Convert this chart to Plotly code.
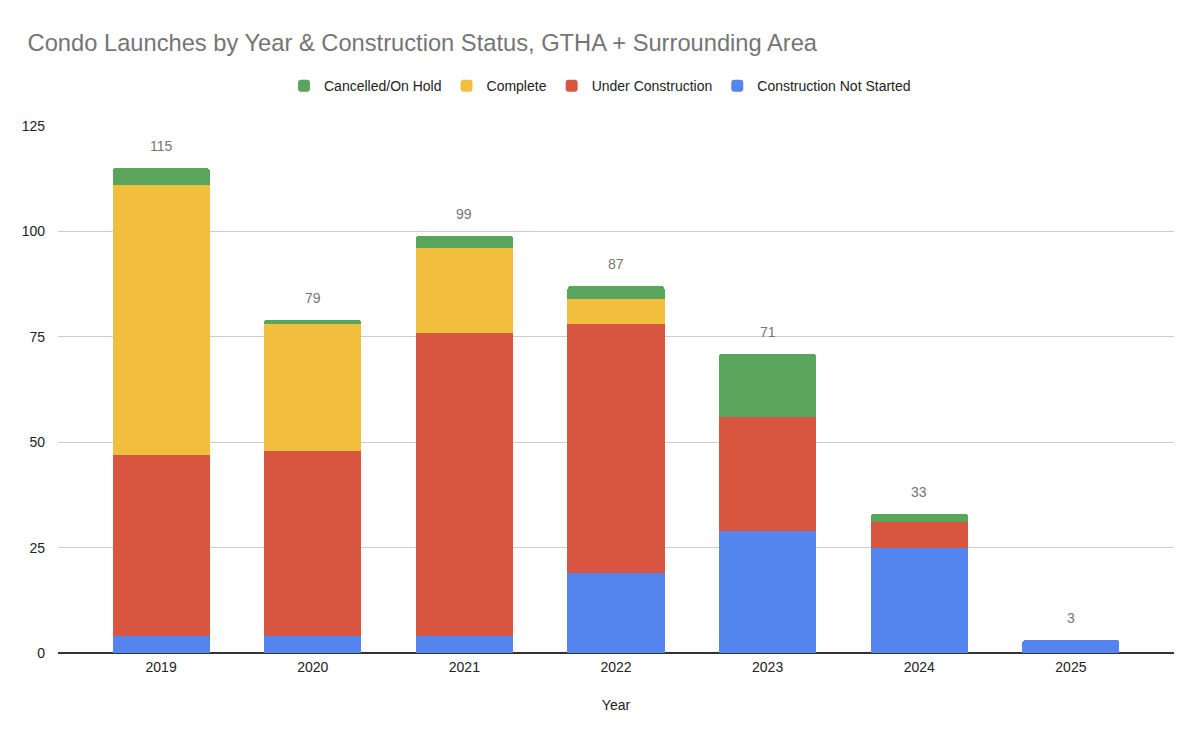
import plotly.graph_objects as go

years = ["2019", "2020", "2021", "2022", "2023", "2024", "2025"]
not_started = [4, 4, 4, 19, 29, 25, 3]
under_construction = [43, 44, 72, 59, 27, 6, 0]
complete = [64, 30, 20, 6, 0, 0, 0]
cancelled = [4, 1, 3, 3, 15, 2, 0]

series = [
    ("Construction Not Started", not_started, "#5484ED"),
    ("Under Construction", under_construction, "#D85540"),
    ("Complete", complete, "#F1BE3E"),
    ("Cancelled/On Hold", cancelled, "#59A55C"),
]

fig = go.Figure()
for name, vals, color in series:
    fig.add_trace(go.Bar(x=years, y=vals, name=name, marker_color=color,
                         marker_line_width=0))

totals = [sum(v) for v in zip(not_started, under_construction, complete, cancelled)]
for i, t in enumerate(totals):
    fig.add_annotation(x=i, y=t, xref="x", yref="y", text=str(t), showarrow=False,
                       yshift=22,
                       font=dict(size=14, color="#757575", family="Arial"))

fig.update_layout(
    barmode="stack",
    bargap=0.36,
    barcornerradius=3,
    width=1200, height=737,
    margin=dict(l=58, r=26, t=126, b=84),
    plot_bgcolor="white", paper_bgcolor="white",
    font=dict(family="Arial", color="#222222"),
    title=dict(text="Condo Launches by Year & Construction Status, GTHA + Surrounding Area",
               x=0.023, xanchor="left", y=0.942, yanchor="middle",
               font=dict(size=23.7, color="#757575", family="Arial")),
    legend=dict(orientation="h", traceorder="reversed", xref="container", x=0.5,
                xanchor="center", yref="container", y=0.883, yanchor="middle",
                font=dict(size=14, color="#222222"), itemclick=False),
    xaxis=dict(type="category", range=[-0.68, 6.68], showgrid=False, ticks="",
               tickfont=dict(size=14, color="#222222"), ticklabelstandoff=4,
               title=dict(text="Year", font=dict(size=14, color="#222222"), standoff=26),
               showline=False, zeroline=False),
    yaxis=dict(range=[0, 125], tickvals=[0, 25, 50, 75, 100, 125],
               showgrid=True, gridcolor="#CCCCCC", gridwidth=1,
               zeroline=True, zerolinecolor="#333333", zerolinewidth=1.5,
               tickfont=dict(size=14, color="#222222"), ticks="",
               ticklabelstandoff=12),
)

fig.write_html("out.html")
